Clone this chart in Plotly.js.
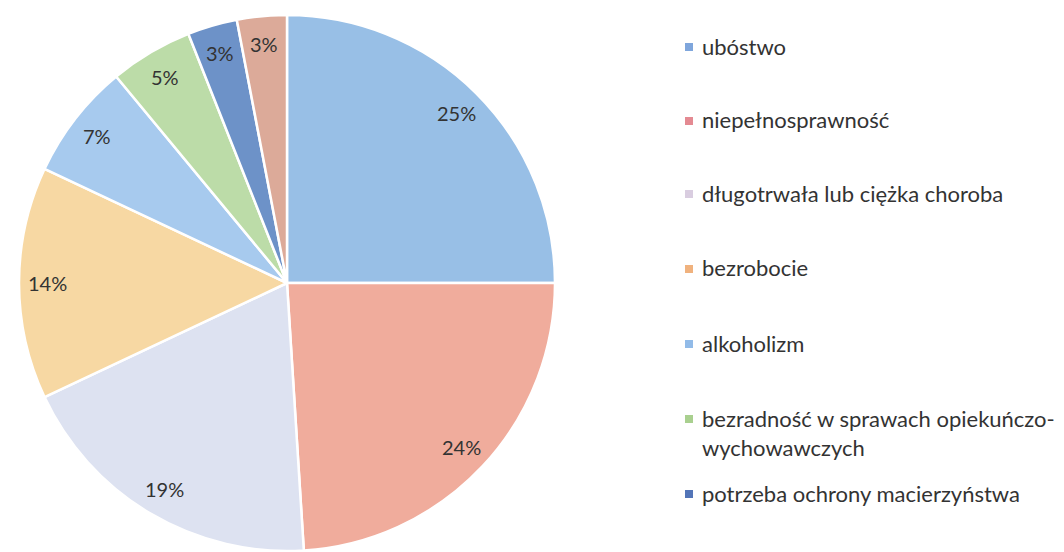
<!DOCTYPE html>
<html>
<head>
<meta charset="utf-8">
<script src="https://cdn.plot.ly/plotly-3.0.1.min.js"></script>
<style>html,body{margin:0;padding:0;background:#fff;}#chart{width:1064px;height:552px;}</style>
</head>
<body>
<div id="chart"></div>
<script>
// Data (percent shares)
const labels = [
  "ubóstwo",
  "niepełnosprawność",
  "długotrwała lub ciężka choroba",
  "bezrobocie",
  "alkoholizm",
  "bezradność w sprawach opiekuńczo-<br>wychowawczych",
  "potrzeba ochrony macierzyństwa",
  "inne"
];
const values = [25, 24, 19, 14, 7, 5, 3, 3];
const legendShown = [true, true, true, true, true, true, true, false];

// Styles
const sliceColors = ["#98bfe6", "#f0ac9c", "#dde2f1", "#f7d8a3", "#a7caee", "#bcdca8", "#6d92c8", "#dcaa99"];
const markerColors = ["#7fa6dc", "#e48a92", "#d9cde0", "#f0b27e", "#92bbe8", "#a9d08f", "#5375b8", "#cf9a88"];
const FONT = "Lato, 'Open Sans', sans-serif";
const W = 1064, H = 552;

// pie placement (pixels)
const cx = 287, cy = 283, R = 268;
const domX = [(cx - R) / W, (cx + R) / W];
const domY = [1 - (cy + R) / H, 1 - (cy - R) / H];

const trace = {
  type: "pie",
  labels: labels,
  values: values,
  sort: false,
  direction: "clockwise",
  rotation: 0,
  marker: { colors: sliceColors, line: { color: "#ffffff", width: 2.5 } },
  textinfo: "none",
  domain: { x: domX, y: domY },
  showlegend: false,
  hoverinfo: "label+percent"
};

const annotations = [];
const shapes = [];

// Percentage labels placed near the outer edge (computed from the values)
const total = values.reduce((a, b) => a + b, 0);
let cum = 0;
values.forEach((v) => {
  const mid = (cum + v / 2) / total * 2 * Math.PI;
  cum += v;
  const rr = 0.895 * R;
  const px = cx + rr * Math.sin(mid);
  const py = cy - rr * Math.cos(mid);
  annotations.push({
    xref: "paper", yref: "paper",
    x: px / W, y: 1 - py / H,
    xanchor: "center", yanchor: "middle",
    text: Math.round(v / total * 100) + "%",
    showarrow: false,
    font: { family: FONT, size: 20, color: "#333333" }
  });
});

// Legend drawn with annotations + square shapes
const legendY = [46, 120, 193, 268, 343, 418, 493]; // first-line pixel centres from top
const lineH = 29;
let k = 0;
labels.forEach((lab, i) => {
  if (!legendShown[i]) return;
  const y1 = legendY[k++];
  const nLines = lab.split("<br>").length;
  const yc = y1 + (nLines - 1) * lineH / 2;
  annotations.push({
    xref: "paper", yref: "paper",
    x: 700 / W, y: 1 - yc / H,
    xanchor: "left", yanchor: "middle", align: "left",
    text: lab, showarrow: false,
    font: { family: FONT, size: 22, color: "#333333" }
  });
  shapes.push({
    type: "rect", xref: "paper", yref: "paper",
    x0: 685 / W, x1: 693 / W,
    y0: 1 - (y1 + 1 - 4) / H, y1: 1 - (y1 + 1 + 4) / H,
    fillcolor: markerColors[i], line: { width: 0 }
  });
});

const layout = {
  width: W, height: H,
  margin: { l: 0, r: 0, t: 0, b: 0 },
  paper_bgcolor: "#ffffff",
  plot_bgcolor: "#ffffff",
  font: { family: FONT },
  annotations: annotations,
  shapes: shapes
};

Plotly.newPlot("chart", [trace], layout, { displayModeBar: false, staticPlot: true });
</script>
</body>
</html>
